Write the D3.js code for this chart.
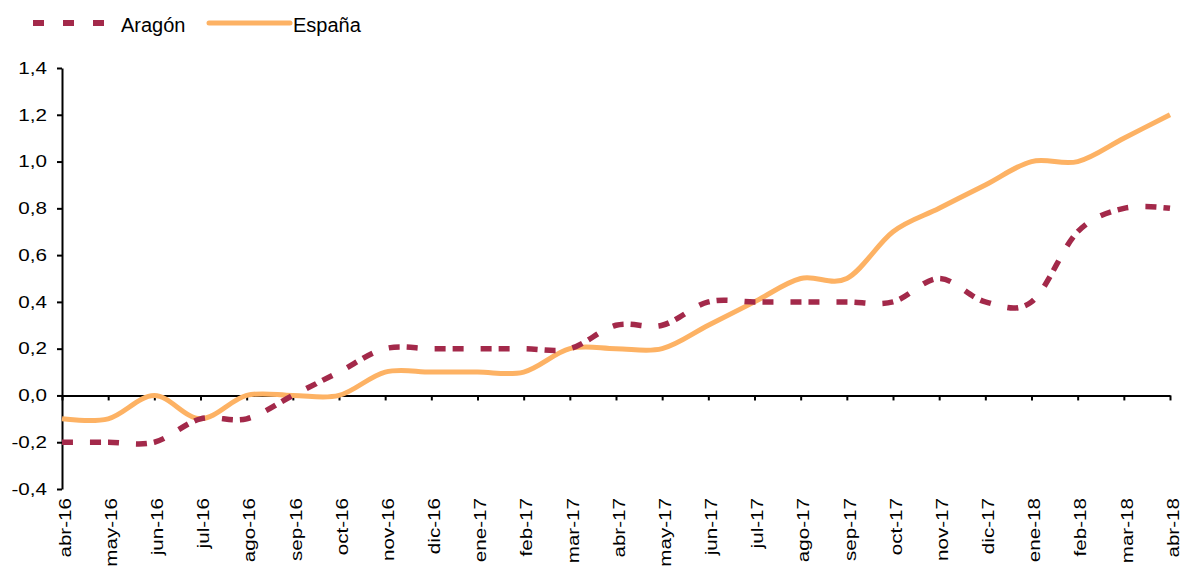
<!DOCTYPE html>
<html>
<head>
<meta charset="utf-8">
<script src="https://cdn.jsdelivr.net/npm/d3@7"></script>
<style>
  body { margin: 0; background: #fff; }
  svg { display: block; font-family: "Liberation Sans", Arial, sans-serif; }
</style>
</head>
<body>
<div id="chart"></div>
<script>
// months shown on the x axis
const months = ["abr-16", "may-16", "jun-16", "jul-16", "ago-16", "sep-16", "oct-16", "nov-16", "dic-16",
  "ene-17", "feb-17", "mar-17", "abr-17", "may-17", "jun-17", "jul-17", "ago-17", "sep-17", "oct-17",
  "nov-17", "dic-17", "ene-18", "feb-18", "mar-18", "abr-18"];

// series values
const aragon = [-0.2, -0.2, -0.2, -0.1, -0.1, 0.0, 0.1, 0.2, 0.2, 0.2, 0.2, 0.2, 0.3, 0.3, 0.4, 0.4,
  0.4, 0.4, 0.4, 0.5, 0.4, 0.4, 0.7, 0.8, 0.8];
const espana = [-0.1, -0.1, 0.0, -0.1, 0.0, 0.0, 0.0, 0.1, 0.1, 0.1, 0.1, 0.2, 0.2, 0.2, 0.3, 0.4,
  0.5, 0.5, 0.7, 0.8, 0.9, 1.0, 1.0, 1.1, 1.2];

const yTicks = [-0.4, -0.2, 0.0, 0.2, 0.4, 0.6, 0.8, 1.0, 1.2, 1.4];

const width = 1182, height = 574;
const plotLeft = 62, plotRight = 1170, plotTop = 68, plotBottom = 489;
const stretch = 1.25; // tick labels are drawn a little wide, as in the original

const svg = d3.select("#chart").append("svg")
    .attr("width", width)
    .attr("height", height);

const x = d3.scalePoint().domain(months).range([plotLeft, plotRight]);
const y = d3.scaleLinear().domain([-0.4, 1.4]).range([plotBottom, plotTop]);

const fmt = v => d3.format(".1f")(v).replace(".", ",").replace("−", "-");

// y axis
const yAxis = svg.append("g")
    .attr("transform", `translate(${plotLeft},0)`)
    .call(d3.axisLeft(y).tickValues(yTicks).tickSize(5).tickSizeOuter(0).tickFormat(fmt));
yAxis.select(".domain").attr("stroke", "#000").attr("stroke-width", 2);
yAxis.selectAll(".tick line").attr("stroke", "#000").attr("stroke-width", 2);
yAxis.selectAll(".tick text")
    .attr("font-size", 16.5).attr("fill", "#000")
    .attr("font-family", "Liberation Sans, Arial, sans-serif")
    .attr("x", -15 / stretch)
    .attr("transform", `scale(${stretch},1)`);

// x axis along zero
const xAxis = svg.append("g")
    .attr("transform", `translate(0,${y(0)})`)
    .call(d3.axisBottom(x).tickSize(5).tickSizeOuter(0).tickFormat(""));
xAxis.select(".domain").attr("stroke", "#000").attr("stroke-width", 2);
xAxis.selectAll(".tick line").attr("stroke", "#000").attr("stroke-width", 2);

// month labels under the plot
svg.append("g").selectAll("text")
    .data(months)
    .enter().append("text")
    .attr("transform", d => `translate(${x(d) + 3},${plotBottom + 9}) rotate(-90) scale(${stretch},1)`)
    .attr("text-anchor", "end")
    .attr("dy", "0.35em")
    .attr("font-size", 16.5)
    .attr("fill", "#000")
    .text(d => d);

const line = d3.line()
    .x((d, i) => x(months[i]))
    .y(d => y(d))
    .curve(d3.curveCardinal.tension(0));

// España: solid orange
svg.append("path")
    .datum(espana)
    .attr("d", line)
    .attr("fill", "none")
    .attr("stroke", "#FDB264")
    .attr("stroke-width", 5);

// Aragón: dashed maroon
svg.append("path")
    .datum(aragon)
    .attr("d", line)
    .attr("fill", "none")
    .attr("stroke", "#A3294A")
    .attr("stroke-width", 5.5)
    .attr("stroke-dasharray", "11,17,11,7");

// legend
const legend = svg.append("g");
legend.append("line")
    .attr("x1", 33).attr("x2", 106).attr("y1", 23).attr("y2", 23)
    .attr("stroke", "#A3294A").attr("stroke-width", 6)
    .attr("stroke-dasharray", "11,19");
legend.append("text")
    .attr("x", 121).attr("y", 25).attr("dy", "0.35em")
    .attr("font-size", 20).attr("fill", "#000")
    .text("Aragón");
legend.append("line")
    .attr("x1", 209).attr("x2", 290).attr("y1", 23).attr("y2", 23)
    .attr("stroke", "#FDB264").attr("stroke-width", 5)
    .attr("stroke-linecap", "round");
legend.append("text")
    .attr("x", 293).attr("y", 25).attr("dy", "0.35em")
    .attr("font-size", 20).attr("fill", "#000")
    .text("España");
</script>
</body>
</html>
